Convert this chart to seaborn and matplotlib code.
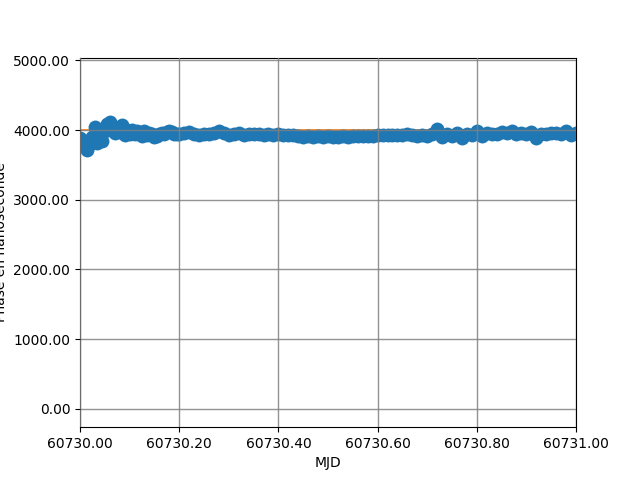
import matplotlib
matplotlib.use("Agg")
import matplotlib.pyplot as plt
import matplotlib.ticker as mticker
import seaborn as sns
import pandas as pd

mjd = [60730.000, 60730.005, 60730.010, 60730.015, 60730.020, 60730.025, 60730.030, 60730.035,
       60730.040, 60730.045, 60730.050, 60730.055, 60730.060, 60730.065, 60730.070, 60730.075,
       60730.080, 60730.085, 60730.090, 60730.095, 60730.100, 60730.105, 60730.110, 60730.115,
       60730.120, 60730.125, 60730.130, 60730.135, 60730.140, 60730.145, 60730.150, 60730.155,
       60730.160, 60730.165, 60730.170, 60730.175, 60730.180, 60730.185, 60730.190, 60730.195,
       60730.20, 60730.21, 60730.22, 60730.23, 60730.24, 60730.25, 60730.26, 60730.27, 60730.28, 60730.29,
       60730.30, 60730.31, 60730.32, 60730.33, 60730.34, 60730.35, 60730.36, 60730.37, 60730.38, 60730.39,
       60730.40, 60730.41, 60730.42, 60730.43, 60730.44, 60730.45, 60730.46, 60730.47, 60730.48, 60730.49,
       60730.50, 60730.51, 60730.52, 60730.53, 60730.54, 60730.55, 60730.56, 60730.57, 60730.58, 60730.59,
       60730.60, 60730.61, 60730.62, 60730.63, 60730.64, 60730.65, 60730.66, 60730.67, 60730.68, 60730.69,
       60730.70, 60730.71, 60730.72, 60730.73, 60730.74, 60730.75, 60730.76, 60730.77, 60730.78, 60730.79,
       60730.80, 60730.81, 60730.82, 60730.83, 60730.84, 60730.85, 60730.86, 60730.87, 60730.88, 60730.89,
       60730.90, 60730.91, 60730.92, 60730.93, 60730.94, 60730.95, 60730.96, 60730.97, 60730.98, 60730.99,
       60731.00]

phase = [3880, 3820, 3760, 3720, 3800, 3900, 4040, 3820,
         3960, 3850, 3980, 4090, 4110, 4060, 3960, 4020,
         3970, 4070, 3930, 4000, 3950, 4000, 3940, 3990,
         3960, 3920, 3980, 3930, 3960, 3940, 3905, 3920,
         3950, 3960, 3940, 3970, 3985, 3975, 3950, 3945,
         3940, 3955, 3965, 3945, 3930, 3950, 3940, 3960, 3990, 3960,
         3935, 3945, 3955, 3935, 3940, 3950, 3945, 3935, 3940, 3935,
         3945, 3930, 3925, 3935, 3920, 3905, 3910, 3900, 3910, 3905,
         3915, 3905, 3900, 3910, 3905, 3915, 3910, 3920, 3915, 3920,
         3930, 3925, 3935, 3930, 3925, 3935, 3940, 3930, 3920, 3935,
         3910, 3940, 4010, 3900, 3950, 3910, 3960, 3890, 3940, 3930,
         3990, 3920, 3960, 3950, 3940, 3970, 3955, 3985, 3945, 3960,
         3950, 3965, 3890, 3950, 3940, 3960, 3955, 3950, 3990, 3930,
         3960]

ref_level = [4000, 4000]
ref_mjd = [60730.0, 60731.0]

df = pd.DataFrame({"MJD": mjd, "phase": phase})

fig, ax = plt.subplots(figsize=(6.4, 4.8), dpi=100)
ax.plot(ref_mjd, ref_level, color="C1", linewidth=1.2, zorder=1)
sns.lineplot(data=df, x="MJD", y="phase", ax=ax, color="C0", linewidth=5,
             marker="o", markersize=10, markeredgewidth=0, zorder=2)

ax.set_xlim(60730.0, 60731.0)
ax.set_ylim(-265, 5040)
ax.xaxis.set_major_locator(mticker.MultipleLocator(0.2))
ax.yaxis.set_major_locator(mticker.MultipleLocator(1000))
ax.xaxis.set_major_formatter(mticker.FormatStrFormatter("%.2f"))
ax.yaxis.set_major_formatter(mticker.FormatStrFormatter("%.2f"))
ax.set_axisbelow(False)
ax.grid(True, color="gray", alpha=0.85, linewidth=1.0)
ax.set_xlabel("MJD")
ax.set_ylabel("Phase en nanoseconde")

fig.savefig("out.png", dpi=100)
